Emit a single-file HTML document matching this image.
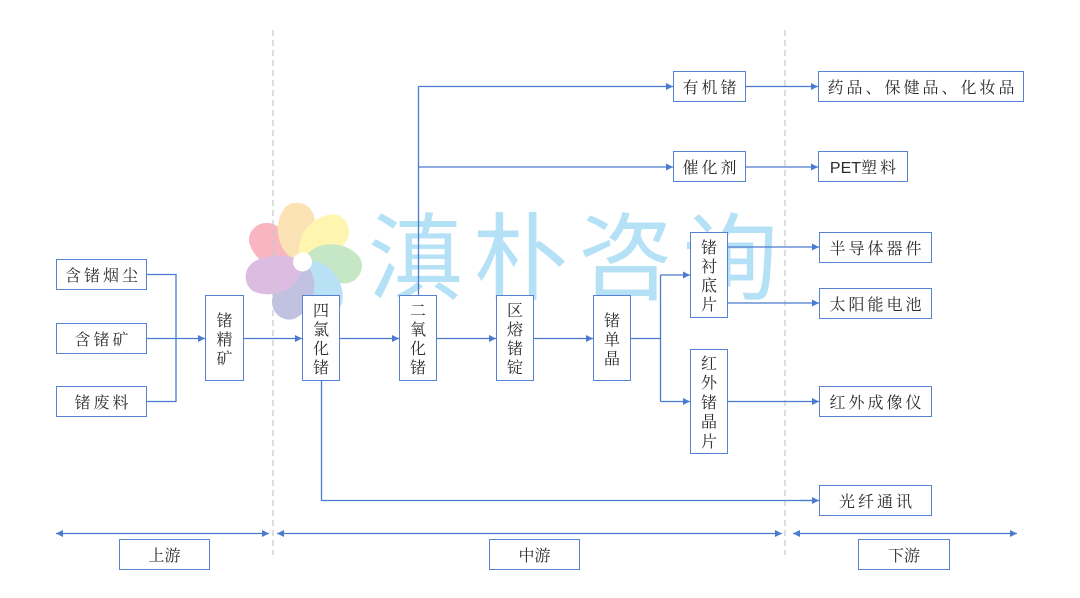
<!DOCTYPE html>
<html><head><meta charset="utf-8">
<style>
html,body{margin:0;padding:0;background:#fff;}
#c{position:relative;width:1080px;height:598px;overflow:hidden;background:#fff;}
svg{position:absolute;left:0;top:0;}
.b{position:absolute;box-sizing:border-box;border:1.6px solid #5582d2;background:#fff;display:flex;align-items:center;justify-content:center;text-align:center;
font-family:"Noto Serif CJK SC","Liberation Serif",serif;font-size:16px;color:#2b2b2b;letter-spacing:3px;white-space:nowrap;}
.v{line-height:19px;letter-spacing:0;}
.h span{margin-right:-3px;}
</style></head><body><div id="c">
<svg width="1080" height="598" viewBox="0 0 1080 598">
  <defs>
    <path id="pt" d="M0,0 C-24,-6 -28,-40 -12,-56 C-2,-64 14,-58 16,-44 C18,-26 12,-10 0,0Z"/>
  </defs>
  <g transform="translate(302.5,262)">
    <use href="#pt" transform="rotate(-57)" fill="#f7b6c0"/>
    <use href="#pt" transform="rotate(-5.6)" fill="#fbe2b4"/>
    <use href="#pt" transform="rotate(45.9)" fill="#fdf5b0"/>
    <use href="#pt" transform="rotate(97.3)" fill="#c5e7c6"/>
    <use href="#pt" transform="rotate(148.7)" fill="#b8e1f6"/>
    <use href="#pt" transform="rotate(200.1)" fill="#c1c1e2"/>
    <use href="#pt" transform="rotate(251.6)" fill="#dcbde1"/>
    <circle cx="0" cy="0" r="9.5" fill="#fff"/>
  </g>
  <text x="368" y="292" font-family="'Noto Sans CJK SC',sans-serif" font-size="95" fill="#b5e1f7" letter-spacing="10">滇朴咨询</text>
  <defs>
    <marker id="a" markerUnits="userSpaceOnUse" markerWidth="8" markerHeight="8" refX="7" refY="3.5" orient="auto-start-reverse">
      <path d="M0,0 L7,3.5 L0,7Z" fill="#4a7bd0"/>
    </marker>
  </defs>
  <g stroke="#c8c8c8" stroke-width="1.2" stroke-dasharray="6,4">
    <line x1="273" y1="30" x2="273" y2="555"/>
    <line x1="785" y1="30" x2="785" y2="555"/>
  </g>
  <g stroke="#4a7bd0" stroke-width="1.3" fill="none">
    <polyline points="147,274.5 176,274.5 176,401.5 147,401.5"/>
    <line x1="147" y1="338.5" x2="176" y2="338.5"/>
    <line x1="176" y1="338.5" x2="205" y2="338.5" marker-end="url(#a)"/>
    <line x1="244" y1="338.5" x2="302" y2="338.5" marker-end="url(#a)"/>
    <line x1="340" y1="338.5" x2="399" y2="338.5" marker-end="url(#a)"/>
    <line x1="437" y1="338.5" x2="496" y2="338.5" marker-end="url(#a)"/>
    <line x1="534" y1="338.5" x2="593" y2="338.5" marker-end="url(#a)"/>
    <polyline points="631,338.5 660.5,338.5"/>
    <line x1="660.5" y1="275" x2="660.5" y2="401.5"/>
    <line x1="660.5" y1="275" x2="690" y2="275" marker-end="url(#a)"/>
    <line x1="660.5" y1="401.5" x2="690" y2="401.5" marker-end="url(#a)"/>
    <line x1="418.5" y1="295" x2="418.5" y2="86.5"/>
    <line x1="418.5" y1="86.5" x2="673" y2="86.5" marker-end="url(#a)"/>
    <line x1="418.5" y1="167" x2="673" y2="167" marker-end="url(#a)"/>
    <line x1="746" y1="86.5" x2="818" y2="86.5" marker-end="url(#a)"/>
    <line x1="746" y1="167" x2="818" y2="167" marker-end="url(#a)"/>
    <line x1="728" y1="247" x2="819" y2="247" marker-end="url(#a)"/>
    <line x1="728" y1="303" x2="819" y2="303" marker-end="url(#a)"/>
    <line x1="728" y1="401.5" x2="819" y2="401.5" marker-end="url(#a)"/>
    <polyline points="321.5,381 321.5,500.5 812,500.5"/>
    <line x1="800" y1="500.5" x2="819" y2="500.5" marker-end="url(#a)"/>
    <line x1="56" y1="533.5" x2="269" y2="533.5" marker-start="url(#a)" marker-end="url(#a)"/>
    <line x1="277" y1="533.5" x2="782" y2="533.5" marker-start="url(#a)" marker-end="url(#a)"/>
    <line x1="793" y1="533.5" x2="1017" y2="533.5" marker-start="url(#a)" marker-end="url(#a)"/>
  </g>
</svg>

<div class="b h" style="left:56px;top:259px;width:91px;height:31px;"><span>含锗烟尘</span></div>
<div class="b h" style="left:56px;top:323px;width:91px;height:31px;"><span>含锗矿</span></div>
<div class="b h" style="left:56px;top:386px;width:91px;height:31px;"><span>锗废料</span></div>

<div class="b v" style="left:205px;top:295px;width:39px;height:86px;">锗<br>精<br>矿</div>
<div class="b v" style="left:302px;top:295px;width:38px;height:86px;">四<br>氯<br>化<br>锗</div>
<div class="b v" style="left:399px;top:295px;width:38px;height:86px;">二<br>氧<br>化<br>锗</div>
<div class="b v" style="left:496px;top:295px;width:38px;height:86px;">区<br>熔<br>锗<br>锭</div>
<div class="b v" style="left:593px;top:295px;width:38px;height:86px;">锗<br>单<br>晶</div>

<div class="b h" style="left:673px;top:71px;width:73px;height:31px;"><span>有机锗</span></div>
<div class="b h" style="left:673px;top:151px;width:73px;height:31px;"><span>催化剂</span></div>

<div class="b v" style="left:690px;top:232px;width:38px;height:86px;">锗<br>衬<br>底<br>片</div>
<div class="b v" style="left:690px;top:349px;width:38px;height:105px;line-height:19.5px;">红<br>外<br>锗<br>晶<br>片</div>

<div class="b h" style="left:818px;top:71px;width:206px;height:31px;letter-spacing:3px;"><span style="margin-right:-3px">药品、保健品、化妆品</span></div>
<div class="b h" style="left:818px;top:151px;width:90px;height:31px;"><span><span style="font-family:'Liberation Sans',sans-serif;letter-spacing:0;margin:0">PET</span>塑料</span></div>
<div class="b h" style="left:819px;top:232px;width:113px;height:31px;"><span>半导体器件</span></div>
<div class="b h" style="left:819px;top:288px;width:113px;height:31px;"><span>太阳能电池</span></div>
<div class="b h" style="left:819px;top:386px;width:113px;height:31px;"><span>红外成像仪</span></div>
<div class="b h" style="left:819px;top:485px;width:113px;height:31px;"><span>光纤通讯</span></div>

<div class="b" style="left:119px;top:539px;width:91px;height:31px;letter-spacing:0;">上游</div>
<div class="b" style="left:489px;top:539px;width:91px;height:31px;letter-spacing:0;">中游</div>
<div class="b" style="left:858px;top:539px;width:92px;height:31px;letter-spacing:0;">下游</div>
</div></body></html>
